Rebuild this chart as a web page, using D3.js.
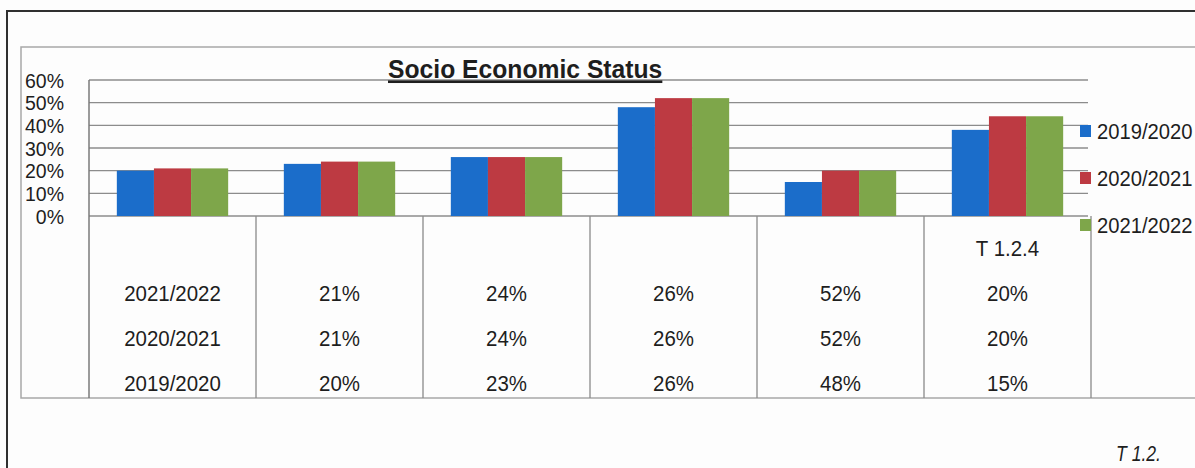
<!DOCTYPE html>
<html>
<head>
<meta charset="utf-8">
<script src="https://cdn.jsdelivr.net/npm/d3@7"></script>
<style>
  html, body { margin: 0; padding: 0; background: #fdfdfd; }
  svg { display: block; font-family: "Liberation Sans", Arial, sans-serif; }
</style>
</head>
<body>
<svg id="chart" width="1195" height="468"></svg>
<script>
// Socio-economic status by school year
const categories = ["c1", "c2", "c3", "c4", "c5", "c6"];
const seriesNames = ["2019/2020", "2020/2021", "2021/2022"];
const values2019 = [0.20, 0.23, 0.26, 0.48, 0.15, 0.38];
const values2020 = [0.21, 0.24, 0.26, 0.52, 0.20, 0.44];
const values2021 = [0.21, 0.24, 0.26, 0.52, 0.20, 0.44];
const seriesColors = ["#1b6dca", "#bd3a42", "#7ea64a"];
const yTicks = [0, 0.1, 0.2, 0.3, 0.4, 0.5, 0.6];
const titleText = "Socio Economic Status";
const tableNote = "T 1.2.4";
const pageNote = "T 1.2.";
// columns of the data table that hold values (the first column holds the row names)
const tableValueCount = 5;

const seriesValues = [values2019, values2020, values2021];
const pct = d3.format(".0%");

const svg = d3.select("#chart");
const ink = "#1e1e1e";

// scales
const x = d3.scaleBand().domain(categories).range([89, 1091]).paddingInner(0).paddingOuter(0);
const bw = x.bandwidth() / 4.5;
const x1 = d3.scaleBand().domain(seriesNames).range([0.75 * bw, x.bandwidth() - 0.75 * bw]);
const y = d3.scaleLinear().domain([0, 0.6]).range([216, 80]);
const tableBottom = 398;
const rightEdge = 1088;

// outer frame (top and left edges)
svg.append("path")
  .attr("d", "M7,468 V11 H1195")
  .attr("fill", "none").attr("stroke", "#303030").attr("stroke-width", 2);

// chart area border
svg.append("path")
  .attr("d", `M1195,47 H21 V${tableBottom} H1195`)
  .attr("fill", "none").attr("stroke", "#a8a8a8").attr("stroke-width", 1.5);

// gridlines
svg.append("g").selectAll("line").data(yTicks).join("line")
  .attr("x1", 89).attr("x2", rightEdge)
  .attr("y1", d => y(d)).attr("y2", d => y(d))
  .attr("stroke", "#8c8c8c").attr("stroke-width", 1.3);

// y axis labels
const yAxis = svg.append("g").attr("transform", "translate(64,0)")
  .call(d3.axisLeft(y).tickValues(yTicks).tickFormat(pct).tickSize(0).tickPadding(0));
yAxis.select(".domain").remove();
yAxis.selectAll(".tick text")
  .attr("font-size", 19.5).attr("fill", ink).attr("font-family", "Liberation Sans, Arial, sans-serif")
  .attr("dy", "0.36em");

// bars
const groups = svg.append("g").selectAll("g").data(categories).join("g")
  .attr("transform", d => `translate(${x(d)},0)`);
groups.selectAll("rect")
  .data((c, ci) => seriesNames.map((s, si) => ({ s, si, v: seriesValues[si][ci] })))
  .join("rect")
  .attr("x", d => x1(d.s))
  .attr("width", x1.bandwidth())
  .attr("y", d => y(d.v))
  .attr("height", d => y(0) - y(d.v))
  .attr("fill", d => seriesColors[d.si]);

// value axis line continuing down as the table's left edge
svg.append("line")
  .attr("x1", 89).attr("x2", 89).attr("y1", y(0.6)).attr("y2", tableBottom)
  .attr("stroke", "#7a7a7a").attr("stroke-width", 1.5);

// data table column separators
svg.append("g").selectAll("line").data(categories).join("line")
  .attr("x1", d => x(d) + x.bandwidth()).attr("x2", d => x(d) + x.bandwidth())
  .attr("y1", y(0)).attr("y2", tableBottom)
  .attr("stroke", "#8a8a8a").attr("stroke-width", 1.3);

// helper for compressed text
function label(g, txt, cx, cy, opts = {}) {
  const sx = opts.sx || 0.93;
  const t = g.append("text")
    .attr("transform", `translate(${cx},${cy}) scale(${sx},1)`)
    .attr("text-anchor", opts.anchor || "middle")
    .attr("dy", "0.36em")
    .attr("font-size", opts.size || 22)
    .attr("fill", ink)
    .text(txt);
  if (opts.weight) t.attr("font-weight", opts.weight);
  if (opts.style) t.attr("font-style", opts.style);
  if (opts.deco) t.attr("text-decoration", opts.deco);
  return t;
}

// data table text: rows listed newest first
const table = svg.append("g");
const rowY = [293, 338, 383];
const rowOrder = [2, 1, 0];
rowOrder.forEach((si, r) => {
  const cy = rowY[r];
  label(table, seriesNames[si], x(categories[0]) + x.bandwidth() / 2, cy);
  for (let ci = 0; ci < tableValueCount; ci++) {
    const col = categories[ci + 1];
    label(table, pct(seriesValues[si][ci]), x(col) + x.bandwidth() / 2, cy);
  }
});
label(table, tableNote, x(categories[5]) + x.bandwidth() / 2, 248);

// title
label(svg, titleText, 388, 69, { anchor: "start", size: 26, weight: "bold", sx: 0.95, deco: "underline" });

// legend
const legend = svg.append("g");
const legY = [131, 178, 225];
seriesNames.forEach((s, i) => {
  legend.append("rect")
    .attr("x", 1080).attr("y", legY[i] - 6).attr("width", 11).attr("height", 12)
    .attr("fill", seriesColors[i]);
  label(legend, s, 1097, legY[i], { anchor: "start", sx: 0.92 });
});

// page reference
label(svg, pageNote, 1116, 453, { anchor: "start", size: 22, style: "italic", sx: 0.8 });
</script>
</body>
</html>
